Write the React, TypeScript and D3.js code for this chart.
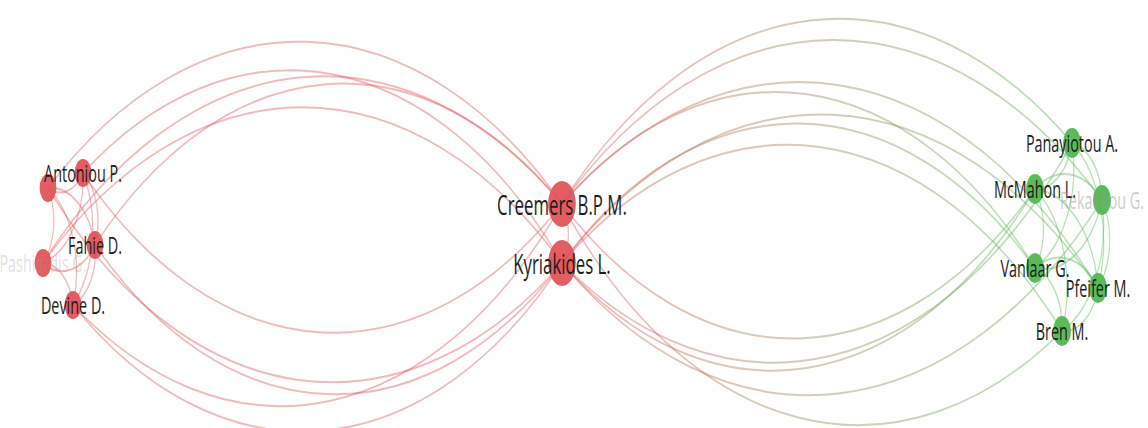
import React from "react";
import * as d3 from "d3";

const WIDTH = 1148;
const HEIGHT = 428;
const SQUASH = 0.6; // horizontal compression of the reference picture

// Authors (nodes) — layout coordinates
const authorNames = [
  "Antoniou P.", "", "Fahie D.", "Pashiardis G.", "Devine D.",
  "Creemers B.P.M.", "Kyriakides L.",
  "Panayiotou A.", "McMahon L.", "Rekalidou G.", "Vanlaar G.", "Pfeifer M.", "Bren M.",
];
const authorX = [83, 48, 95, 43, 73, 562, 562, 1072, 1035, 1102, 1035, 1098, 1062];
const authorY = [173, 188, 245, 263, 305, 204, 263, 143, 189, 200, 268, 288, 331];
const authorCluster = [0, 0, 0, 0, 0, 0, 0, 1, 1, 1, 1, 1, 1];
const authorWeight = [14, 14, 14, 14, 14, 23, 23, 15, 15, 15, 15, 15, 15];
const labelAlpha = [1, 0, 1, 0.3, 1, 1, 1, 1, 1, 0.5, 1, 1, 1];
const labelWeight = [24, 24, 24, 24, 24, 28, 28, 24, 24, 24, 24, 24, 24];

// Co-authorship links [source, target]
const leftInternal: [number, number][] = [
  [0, 1], [0, 2], [0, 3], [0, 4], [1, 2], [1, 3], [1, 4], [2, 3], [2, 4], [3, 4],
];
const leftToCenter: [number, number][] = [
  [1, 5], [0, 6], [3, 5], [2, 5], [3, 6],
  [5, 0], [6, 1], [6, 2], [5, 4], [6, 4],
];
const centerLinks: [number, number][] = [[5, 6]];
const centerToRight: [number, number][] = [
  [5, 7], [5, 9], [5, 11], [5, 10], [6, 11], [6, 10], [6, 12],
  [8, 5], [7, 6], [8, 6], [9, 6], [12, 5],
];
const rightInternal: [number, number][] = [
  [7, 8], [7, 9], [7, 10], [7, 11],
  [8, 9], [8, 10], [8, 11], [8, 12],
  [9, 10], [9, 11], [9, 12],
  [10, 11], [10, 12], [11, 12],
];

const clusterColors = ["#e0555a", "#52b752"];
const CURVATURE = 0.18;

export default function App() {
  const xScale = d3.scaleLinear().domain([0, WIDTH]).range([0, WIDTH / SQUASH]);
  const yScale = d3.scaleLinear().domain([0, HEIGHT]).range([0, HEIGHT]);

  const links = [...leftInternal, ...leftToCenter, ...centerLinks, ...centerToRight, ...rightInternal];

  const arcPath = (a: number, b: number) => {
    const x1 = xScale(authorX[a]);
    const y1 = yScale(authorY[a]);
    const x2 = xScale(authorX[b]);
    const y2 = yScale(authorY[b]);
    const c = Math.hypot(x2 - x1, y2 - y1);
    const s = CURVATURE * c;
    const r = (c * c / 4 + s * s) / (2 * s);
    return `M${x1},${y1}A${r},${r} 0 0 1 ${x2},${y2}`;
  };

  return (
    <svg
      width={WIDTH}
      height={HEIGHT}
      style={{ position: "absolute", left: 0, top: 0, background: "#fff" }}
    >
      <g transform={`scale(${SQUASH},1)`}>
        <defs>
          {links.map(([a, b], i) => (
            <linearGradient
              key={i}
              id={`lg${i}`}
              gradientUnits="userSpaceOnUse"
              x1={xScale(authorX[a])}
              y1={yScale(authorY[a])}
              x2={xScale(authorX[b])}
              y2={yScale(authorY[b])}
            >
              <stop offset="0%" stopColor={clusterColors[authorCluster[a]]} />
              <stop offset="100%" stopColor={clusterColors[authorCluster[b]]} />
            </linearGradient>
          ))}
        </defs>
        <g fill="none" strokeWidth={2} strokeOpacity={0.42}>
          {links.map(([a, b], i) => (
            <path
              key={i}
              d={arcPath(a, b)}
              stroke={
                authorCluster[a] === authorCluster[b]
                  ? clusterColors[authorCluster[a]]
                  : `url(#lg${i})`
              }
            />
          ))}
        </g>
        <g>
          {authorNames.map((_, i) => (
            <circle
              key={i}
              cx={xScale(authorX[i])}
              cy={yScale(authorY[i])}
              r={authorWeight[i]}
              fill={clusterColors[authorCluster[i]]}
              fillOpacity={0.95}
            />
          ))}
        </g>
        <g fontFamily="'Open Sans', sans-serif" textAnchor="middle">
          {authorNames.map((name, i) =>
            name && labelAlpha[i] > 0 ? (
              <text
                key={i}
                x={xScale(authorX[i])}
                y={yScale(authorY[i])}
                dominantBaseline="central"
                fontSize={labelWeight[i]}
                fill={labelAlpha[i] < 1 ? "#999" : "#1c1c1c"}
                fillOpacity={labelAlpha[i]}
              >
                {name}
              </text>
            ) : null
          )}
        </g>
      </g>
    </svg>
  );
}
